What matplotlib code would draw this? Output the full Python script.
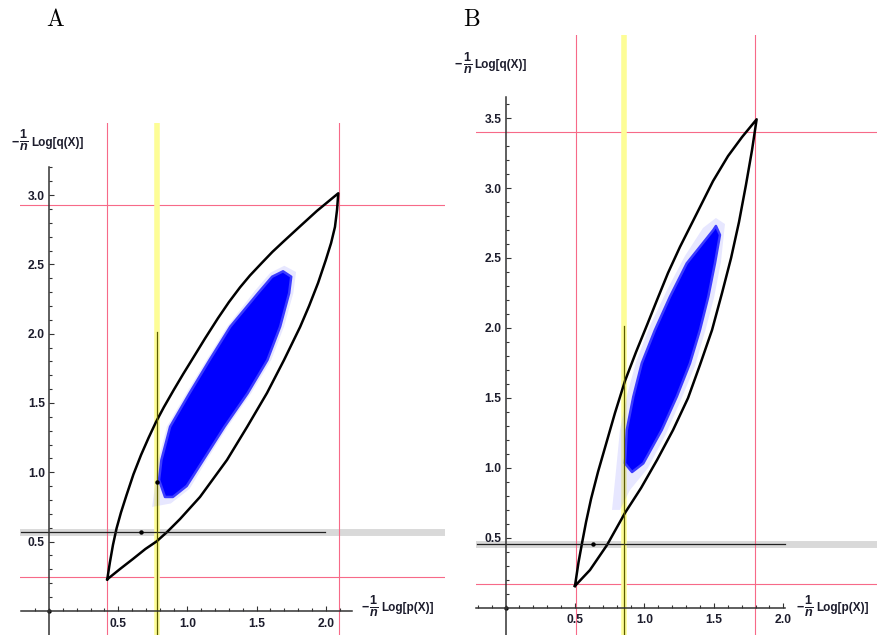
import matplotlib.pyplot as plt
from matplotlib.ticker import FixedLocator, FormatStrFormatter

plt.rcParams.update({
    "font.family": "Liberation Sans",
    "font.weight": "bold",
    "mathtext.fontset": "custom",
    "mathtext.rm": "Liberation Sans:bold",
    "mathtext.it": "Liberation Sans:italic:bold",
    "mathtext.bf": "Liberation Sans:bold",
})

# ---- panel A values ----
a_upper_x = [0.421, 0.440, 0.462, 0.488, 0.520, 0.560, 0.610, 0.665, 0.720, 0.773, 0.830,
             0.900, 0.970, 1.033, 1.127, 1.221, 1.300, 1.380, 1.452, 1.537, 1.614, 1.691,
             1.814, 1.936, 2.016, 2.090]
a_upper_y = [0.228, 0.350, 0.475, 0.595, 0.710, 0.835, 0.985, 1.125, 1.250, 1.363, 1.470,
             1.592, 1.710, 1.812, 1.965, 2.112, 2.228, 2.334, 2.420, 2.510, 2.590, 2.662,
             2.775, 2.886, 2.952, 3.013]
a_lower_x = [2.090, 2.081, 2.066, 2.038, 2.000, 1.944, 1.879, 1.814, 1.698, 1.575, 1.431,
             1.286, 1.091, 0.947, 0.853, 0.777, 0.697, 0.607, 0.513, 0.421]
a_lower_y = [3.013, 2.893, 2.770, 2.654, 2.532, 2.366, 2.200, 2.048, 1.810, 1.572, 1.327,
             1.089, 0.822, 0.663, 0.569, 0.501, 0.447, 0.375, 0.302, 0.228]
a_cloud_x = [0.838, 0.795, 0.812, 0.875, 1.015, 1.160, 1.310, 1.510, 1.612, 1.691, 1.750,
             1.735, 1.670, 1.578, 1.435, 1.268, 1.115, 0.995, 0.895]
a_cloud_y = [0.822, 0.945, 1.089, 1.329, 1.570, 1.810, 2.051, 2.292, 2.411, 2.450, 2.411,
             2.292, 2.051, 1.810, 1.570, 1.329, 1.089, 0.901, 0.822]
a_halo_x = [0.745, 0.772, 0.790, 0.852, 0.992, 1.138, 1.288, 1.488, 1.600, 1.700, 1.785,
            1.765, 1.698, 1.605, 1.460, 1.292, 1.140, 1.015, 0.880]
a_halo_y = [0.750, 0.945, 1.089, 1.329, 1.570, 1.810, 2.051, 2.310, 2.440, 2.490, 2.445,
            2.292, 2.051, 1.810, 1.570, 1.329, 1.089, 0.880, 0.775]
a_red_x = [0.417, 2.096]
a_red_y = [0.242, 2.93]
a_yellow_x = 0.778
a_yellow_top = 2.01
a_gray_y = 0.571
a_gray_end = 1.995
a_dots_x = [0.0, 0.665, 0.778]
a_dots_y = [0.0, 0.571, 0.932]
a_xticks = [0.5, 1.0, 1.5, 2.0]
a_yticks = [0.5, 1.0, 1.5, 2.0, 2.5, 3.0]

# ---- panel B values ----
b_upper_x = [0.500, 0.526, 0.551, 0.580, 0.616, 0.666, 0.724, 0.788, 0.860, 0.940, 1.019,
             1.091, 1.170, 1.256, 1.379, 1.494, 1.602, 1.703, 1.808]
b_upper_y = [0.154, 0.325, 0.461, 0.612, 0.777, 0.970, 1.170, 1.391, 1.620, 1.828, 2.021,
             2.200, 2.393, 2.579, 2.822, 3.050, 3.229, 3.365, 3.492]
b_lower_x = [1.808, 1.775, 1.731, 1.681, 1.624, 1.559, 1.487, 1.400, 1.314, 1.206, 1.091,
             0.976, 0.860, 0.731, 0.608, 0.500]
b_lower_y = [3.492, 3.273, 3.022, 2.757, 2.500, 2.250, 1.985, 1.735, 1.498, 1.269, 1.055,
             0.855, 0.676, 0.447, 0.268, 0.154]
b_cloud_x = [1.515, 1.496, 1.305, 1.184, 1.076, 0.981, 0.920, 0.873, 0.860, 0.911, 0.992,
             1.125, 1.233, 1.328, 1.400, 1.460, 1.508, 1.544]
b_cloud_y = [2.729, 2.700, 2.462, 2.223, 1.985, 1.747, 1.508, 1.270, 1.031, 0.969, 1.031,
             1.270, 1.508, 1.747, 1.985, 2.223, 2.462, 2.665]
b_halo_x = [0.767, 0.796, 0.824, 0.875, 0.940, 1.040, 1.163, 1.292, 1.422, 1.515, 1.580,
            1.551, 1.501, 1.436, 1.364, 1.263, 1.155, 1.026, 0.896, 0.824]
b_halo_y = [0.698, 0.984, 1.270, 1.520, 1.756, 2.014, 2.271, 2.515, 2.715, 2.786, 2.743,
            2.471, 2.214, 1.971, 1.727, 1.484, 1.241, 0.998, 0.840, 0.698]
b_red_x = [0.508, 1.798]
b_red_y = [0.166, 3.40]
b_yellow_x = 0.855
b_yellow_top = 2.01
b_gray_y = 0.452
b_gray_end = 2.01
b_dots_x = [0.0, 0.632]
b_dots_y = [0.0, 0.452]
b_xticks = [0.5, 1.0, 1.5, 2.0]
b_yticks = [0.5, 1.0, 1.5, 2.0, 2.5, 3.0, 3.5]

RED = "#f76a88"
YELLOW = "#fdfd96"
AXIS = "#333333"
TEXT = "#1c1c2c"


def draw_panel(ax, upper, lower, cloud, halo, red_x, red_y, yellow_x, yellow_top,
               gray_y, gray_end, dots, xticks, yticks, xminor, yminor, xbound, ybound):
    x0, x1 = ax.get_xlim()
    y0, y1 = ax.get_ylim()

    ax.axhline(gray_y, color="#d9d9d9", lw=5, zorder=1)
    ax.plot([x0 + 0.01, gray_end], [gray_y, gray_y], color="#222222", lw=0.9, zorder=5)
    for v in red_x:
        ax.axvline(v, color=RED, lw=0.8, zorder=2)
    for v in red_y:
        ax.axhline(v, color=RED, lw=0.8, zorder=2)
    ax.axvline(yellow_x, color=YELLOW, lw=4, zorder=2)
    ax.plot([yellow_x, yellow_x], [y0, yellow_top], color="#5c5c00", lw=0.9, zorder=5)

    ax.fill(halo[0], halo[1], facecolor="#a0a0ff", alpha=0.25, lw=0, zorder=3)
    ax.fill(cloud[0], cloud[1], facecolor="#0000ff", edgecolor="#3c3cff", lw=1.8,
            joinstyle="round", zorder=3)

    ax.plot(upper[0] + lower[0], upper[1] + lower[1], color="black", lw=1.8,
            solid_joinstyle="round", zorder=4)
    ax.plot(dots[0], dots[1], "o", color="black", ms=2.2, zorder=6)

    for side in ("top", "right"):
        ax.spines[side].set_visible(False)
    for side in ("left", "bottom"):
        ax.spines[side].set_position(("data", 0))
        ax.spines[side].set_color(AXIS)
        ax.spines[side].set_linewidth(1.1)
        ax.spines[side].set_zorder(6)
    ax.spines["left"].set_bounds(*ybound)
    ax.spines["bottom"].set_bounds(*xbound)

    ax.xaxis.set_major_locator(FixedLocator(xticks))
    ax.yaxis.set_major_locator(FixedLocator(yticks))
    ax.xaxis.set_minor_locator(FixedLocator(xminor))
    ax.yaxis.set_minor_locator(FixedLocator(yminor))
    ax.xaxis.set_major_formatter(FormatStrFormatter("%.1f"))
    ax.yaxis.set_major_formatter(FormatStrFormatter("%.1f"))
    ax.tick_params(which="both", direction="in", color=AXIS, width=0.8,
                   labelsize=8.7, labelcolor=TEXT)
    ax.tick_params(which="major", length=3.6)
    ax.tick_params(which="minor", length=2.3)
    ax.tick_params(axis="x", pad=5)
    ax.tick_params(axis="y", pad=3)
    for lab in ax.get_xticklabels() + ax.get_yticklabels():
        lab.set_fontweight("bold")
    ax.set_facecolor("none")


def axis_label(ax, x, y, body):
    # "−", then 1 over n, then the rest, like the Mathematica label
    kw = dict(textcoords="offset points", color=TEXT, annotation_clip=False)
    ax.annotate("\u2212", (x, y), xytext=(0, 0), ha="left", va="center", fontsize=9, **kw)
    ax.annotate(r"$\frac{1}{n}$", (x, y), xytext=(9.0, 1.5), ha="center", va="center",
                fontsize=13, **kw)
    ax.annotate(body, (x, y), xytext=(14.0, 0), ha="left", va="center", fontsize=8.5, **kw)


fig = plt.figure(figsize=(8.77, 6.35), dpi=100)

ax_a = fig.add_axes([20 / 877, 0, 425 / 877, 512 / 635])
ax_a.set_xlim(-0.2095, 2.861)
ax_a.set_ylim(-0.174, 3.52)
draw_panel(ax_a, (a_upper_x, a_upper_y), (a_lower_x, a_lower_y), (a_cloud_x, a_cloud_y),
           (a_halo_x, a_halo_y), a_red_x, a_red_y, a_yellow_x, a_yellow_top, a_gray_y,
           a_gray_end, (a_dots_x, a_dots_y), a_xticks, a_yticks,
           [i / 10 for i in range(-1, 22)], [i / 10 for i in range(1, 33)],
           (-0.2, 2.19), (-0.2, 3.2))

ax_b = fig.add_axes([476 / 877, 0, 401 / 877, 600 / 635])
ax_b.set_xlim(-0.2124, 2.6746)
ax_b.set_ylim(-0.1967, 4.095)
draw_panel(ax_b, (b_upper_x, b_upper_y), (b_lower_x, b_lower_y), (b_cloud_x, b_cloud_y),
           (b_halo_x, b_halo_y), b_red_x, b_red_y, b_yellow_x, b_yellow_top, b_gray_y,
           b_gray_end, (b_dots_x, b_dots_y), b_xticks, b_yticks,
           [i / 10 for i in range(-2, 21)], [i / 10 for i in range(1, 37)],
           (-0.21, 2.01), (-0.2, 3.65))

axis_label(ax_a, -0.270, 3.378, "Log[q(X)]")
axis_label(ax_a, 2.259, 0.021, "Log[p(X)]")
axis_label(ax_b, -0.364, 3.881, "Log[q(X)]")
axis_label(ax_b, 2.096, -0.004, "Log[p(X)]")

fig.text(55 / 877, 1 - 20 / 635, "A", family="cmr10", weight="normal", fontsize=17,
         ha="center", va="center")
fig.text(472 / 877, 1 - 20 / 635, "B", family="cmr10", weight="normal", fontsize=17,
         ha="center", va="center")

fig.savefig("out.png", dpi=100)
